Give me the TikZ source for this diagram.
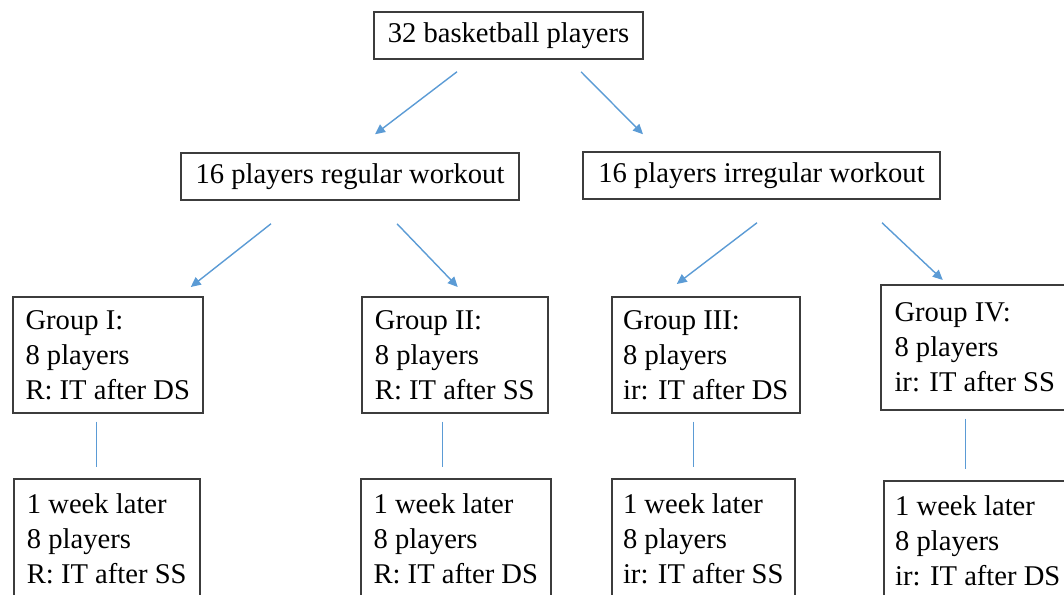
\documentclass[tikz,border=0pt]{standalone}
\usepackage{fontspec}
\setmainfont{Liberation Serif}
\usetikzlibrary{arrows.meta}
\definecolor{arrowblue}{RGB}{91,155,213}
\definecolor{boxgray}{RGB}{60,60,60}

\begin{document}
\begin{tikzpicture}[x=0.5pt, y=-0.5pt,
    box/.style={draw=boxgray, line width=0.75pt, font=\rmfamily\fontsize{14.3}{17.5}\selectfont, inner sep=0pt, minimum height=23.5pt},
    grp/.style={box, align=left, anchor=north west, minimum height=58pt},
    later/.style={grp, minimum height=60pt},
    arr/.style={draw=arrowblue, line width=0.7pt, -{Triangle[length=5pt, width=4.6pt]}},
    conn/.style={draw=arrowblue, line width=0.6pt}]

    % Frame of the picture (pixel units, y pointing down)
    \useasboundingbox (0,0) rectangle (1064,594);
    \clip (0,0) rectangle (1064,594);

    % All players
    \node[box, minimum width=134.5pt] (all) at (508.5,35.5) {32 basketball players};

    % Split by workout
    \node[box, minimum width=169pt] (reg) at (350,176.5) {16 players regular workout};
    \node[box, minimum width=178.5pt] (irr) at (761.5,175.5) {16 players irregular workout};

    % The four groups
    \node[grp, minimum width=95pt] (g1) at (12,296) {Group I:\\8 players\\R: IT after DS};
    \node[grp, minimum width=93pt] (g2) at (361,296) {Group II:\\8 players\\R: IT after SS};
    \node[grp, minimum width=94pt] (g3) at (611,296) {Group III:\\8 players\\ir: IT after DS};
    \node[grp, minimum width=94pt, minimum height=62.5pt] (g4) at (880,284) {Group IV:\\8 players\\ir: IT after SS};

    % One week later (cut by the bottom edge)
    \node[later, minimum width=93pt] (b1) at (13,478) {1 week later\\8 players\\R: IT after SS};
    \node[later, minimum width=95pt] (b2) at (360,478) {1 week later\\8 players\\R: IT after DS};
    \node[later, minimum width=91.5pt] (b3) at (611,478) {1 week later\\8 players\\ir: IT after SS};
    \node[later, minimum width=94pt] (b4) at (883,480) {1 week later\\8 players\\ir: IT after DS};

    % Arrows
    \draw[arr] ([shift={(-51.5,12)}]all.south) -- ([shift={(25,-18)}]reg.north);
    \draw[arr] ([shift={(72.5,12)}]all.south) -- ([shift={(-118.5,-17)}]irr.north);
    \draw[arr] ([shift={(-79,23)}]reg.south) -- ([shift={(83,-9)}]g1.north);
    \draw[arr] ([shift={(47,23)}]reg.south) -- ([shift={(3,-9)}]g2.north);
    \draw[arr] ([shift={(-4.5,23)}]irr.south) -- ([shift={(-29,-12)}]g3.north);
    \draw[arr] ([shift={(120.5,23)}]irr.south) -- ([shift={(-32,-4)}]g4.north);

    % Plain lines down to the retest boxes
    \foreach \i/\ga/\gb in {1/-11/-10, 2/-12/-13, 3/-12/-9.5, 4/-9/-12}
        \draw[conn] ([shift={(\ga,8)}]g\i.south) -- ([shift={(\gb,-11)}]b\i.north);

\end{tikzpicture}
\end{document}
